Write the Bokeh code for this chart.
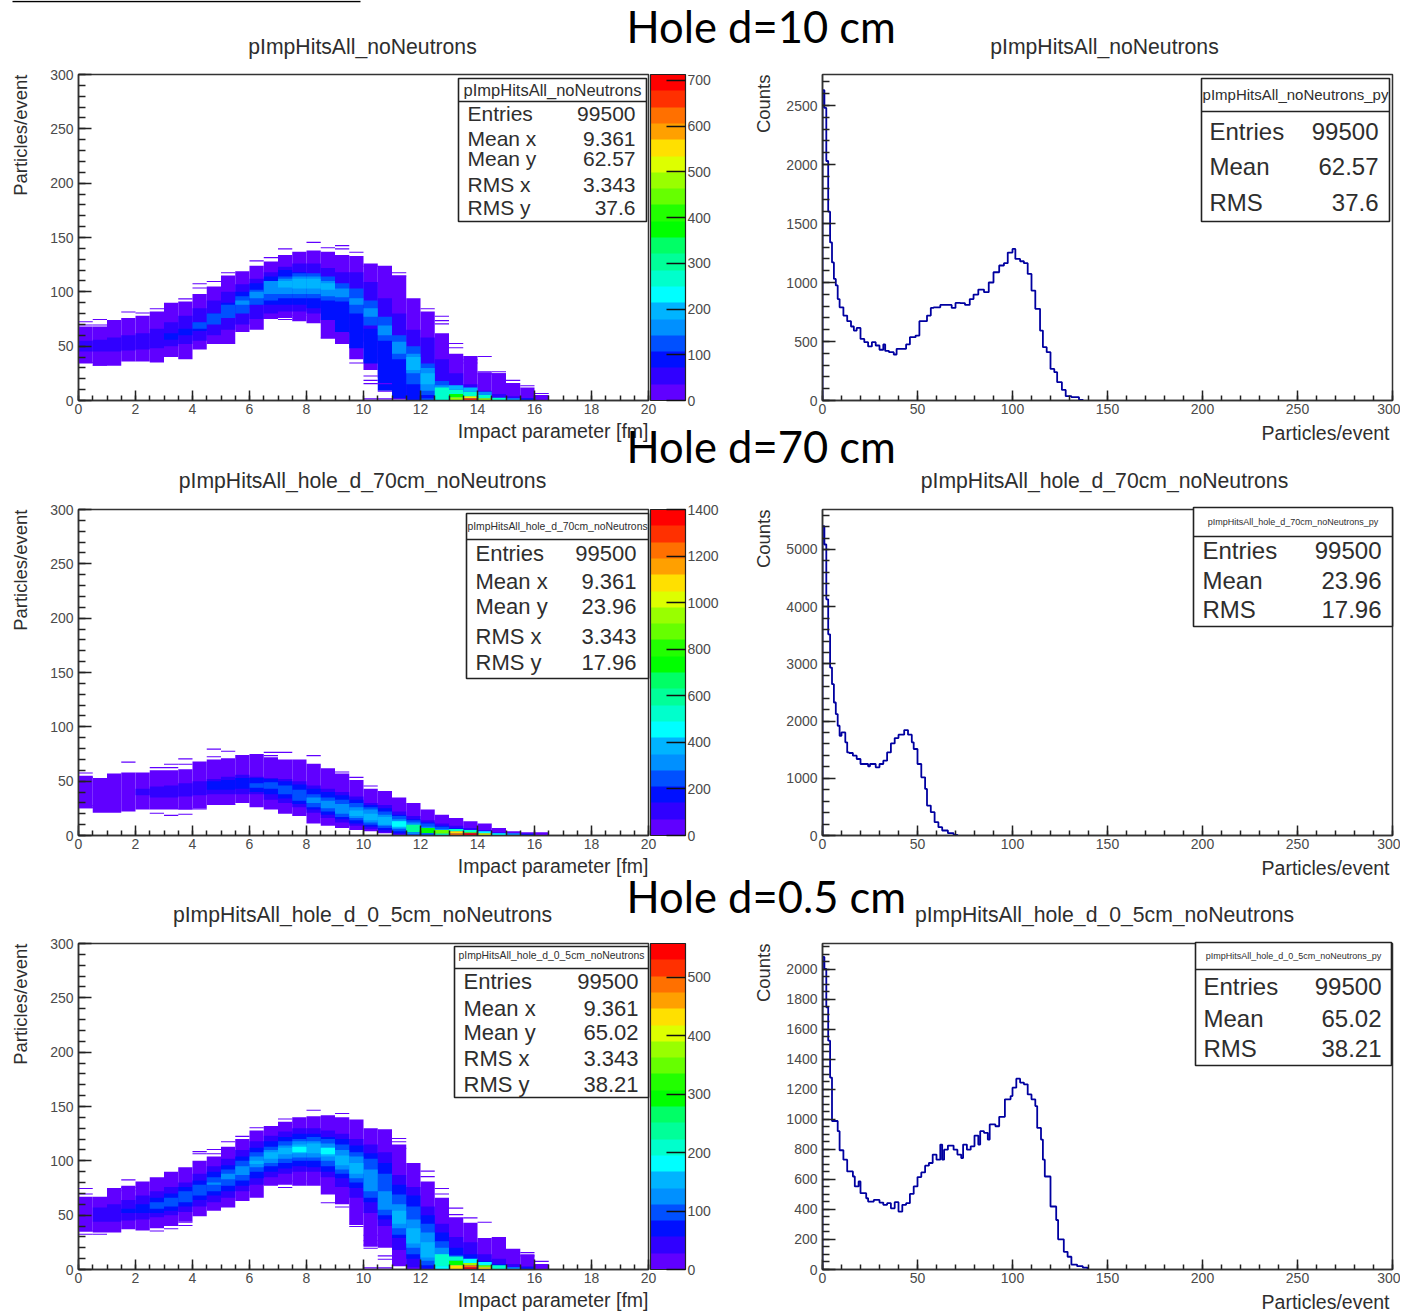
from bokeh.plotting import figure
from bokeh.models import (Range1d, SingleIntervalTicker, LinearColorMapper, ColorBar, GridBox)
from bokeh.core.properties import value
from bokeh.embed import file_html
from bokeh.resources import INLINE
import math

PALETTE = ["#6000FF", "#3000FF", "#0010FF", "#0050FF", "#0090FF", "#00B4FF", "#00FFFF", "#00FFCC", "#00FF99", "#00FF66",
           "#00FF00", "#22FF00", "#66FF00", "#99FF00", "#DDFF00", "#FFE000", "#FFA000", "#FF7000", "#FF3000", "#FF0000"]

# ---------- 2D histograms: per 0.5 fm column, nested contour bands (start column, lows, highs) ----------
h1_zmax = 713
h1_outer_lo = [34,32,32,36,36,35,40,38,47,52,52,63,65,75,76,73,71,57,52,38,28,21,1,0,0,0,0,0,0,0,0,0,0]
h1_outer_hi = [68,68,74,76,78,82,90,91,98,105,115,119,124,128,134,137,138,137,134,133,126,124,115,94,82,62,43,41,26,25,16,12,5]
h1_l2 = (0, [45,45,45,46,47,48,50,52,55,60,65,70,75,80,82,82,80,82,77,62,54,38,21,0,0,0,0,0,0,0,0,0],
            [55,56,58,60,62,66,72,78,85,92,100,107,112,118,123,126,126,122,118,118,109,94,80,65,58,38,25,15,9,6,4,2])
h1_l3 = (6, [56,60,64,72,78,85,88,88,88,88,85,74,63,48,34,9,2,0,0,0,0,0],
            [62,66,72,80,90,100,108,114,120,118,111,111,101,89,66,60,49,25,17,10,6,3])
h1_l4 = (8, [66,70,76,80,88,92,94,94,94,92,91,80,69,55,38,15,5,0,0,0,0],
            [72,80,88,96,102,110,114,117,117,114,108,103,92,77,60,50,34,18,10,6,3])
h1_l5 = (11, [88,94,98,98,98,98,96,95,88,77,60,43,25,9,0,0,0],
             [92,100,110,112,114,114,110,103,94,85,69,54,43,30,14,8,4])
h1_l6 = (14, [104,103,103,102,0,0,0,0,0,28,15],
             [110,112,112,108,0,0,0,0,0,40,25])
h1_hot = [(24,0,2,125),(25,0,12,250),(25,0,2,267),(26,10,14,200),(26,6,10,267),(26,3,6,374),(26,0,3,481),
          (27,8,12,180),(27,4,8,267),(27,2,4,500),(27,0,2,660),(28,5,8,160),(28,2,5,267),(28,0,2,481),
          (29,0,2.5,267),(30,0,2,160),(31,0,2,85),(32,0,1.5,20)]
h1_stray = [(0,72),(0,69),(1,69),(0,34.5),(1,32),(1,74),(3,81),(4,80),(5,84),(7,93),(8,107),(8,103),(9,109),(9,103),
            (10,117),(12,128),(13,131),(14,139),(16,145),(17,140),(18,142),(18,139),(19,136),(20,123),(22,117),(22,114),
            (24,84),(25,77),(25,73),(25,70),(26,52),(26,48),(27,37),(27,34),(28,40),(28,26),(29,26),(28,24),(29,24),(30,18),
            (31,13),(32,6),(15,78),(14,74),(17,71),(17,57),(18,53),(19,34),(20,22),(20,18),(20,15),(21,15),(21,8),(20,1),(21,1)]

h2_zmax = 1400
h2_outer_lo = [25,21,21,22,24,24,24,24,25,28,28,30,26,24,20,18,11,9,7,5,4,2,0,0,0,0,0,0,0,0,0,0,0]
h2_outer_hi = [55,53,57,58,58,60,60,61,68,70,71,74,75,72,70,70,66,62,57,51,43,41,35,30,24,19,16,13,11,7,4,3,3]
h2_l2 = (4, [37,35,35,36,37,38,38,38,38,33,30,26,21,16,12,9,6,3,1,0,0,0,0,0,0,0,0],
            [43,45,46,48,50,52,54,56,54,53,52,50,46,43,40,36,30,28,22,18,14,11,9,7,5,3,1])
h2_l3 = (9, [42,42,43,40,38,34,29,24,19,15,11,8,5,2,1,0,0,0,0,0,0],
            [50,51,53,53,52,50,47,43,40,37,33,28,25,19,15,12,9,7,5,3,2])
h2_l4 = (12, [44,43,38,32,26,22,17,14,10,7,4,2,1,0,0,0],
             [48,49,46,42,38,35,33,30,26,22,18,14,11,8,6,4])
h2_l5 = (16, [30,25,20,16,12,9,6,4,1,0,0],
             [35,32,29,26,24,19,15,12,8,6,4])
h2_l6 = (19, [18,14,10,7,5,1],
             [23,20,17,13,10,6])
h2_hot = [(22,8,13,455),(23,3,10,560),(23,1,3,300),(24,2,7,735),(24,0,2,245),(25,1.5,5,875),(25,0,1.5,500),
          (26,4,6,500),(26,2,4,1085),(26,0,2,1225),(27,3,5,500),(27,2,3,875),(27,0,2,1365),(28,2,4,455),(28,0,2,1015),
          (29,0,2,455),(30,0,2,315),(31,0,1.5,175)]
h2_stray = [(0,57),(0,53),(0,27),(0,25),(1,25),(3,67),(5,62),(6,62),(6,65),(7,65),(7,70),(9,79),(9,72),(10,77),(13,76),
            (14,76),(16,73),(13,73),(18,58),(19,53),(20,45),(5,20),(6,18),(7,19),(7,24),(8,24),(10,28)]

h3_zmax = 558
h3_outer_lo = [35,34,34,37,36,38,40,44,49,54,57,63,66,77,78,77,77,69,60,41,21,20,3,0,0,0,0,0,0,0,0,0,0]
h3_outer_hi = [67,67,75,77,81,85,90,94,100,104,113,120,128,132,136,140,141,142,140,138,130,129,115,98,81,66,48,43,29,30,19,14,5]
h3_l2 = (1, [44,44,45,46,48,50,53,58,62,66,72,78,85,88,90,90,85,76,66,52,40,18,2,0,0,0,0,0,0,0,0,0],
            [57,60,64,68,72,76,80,88,95,102,110,118,123,127,130,130,128,125,120,115,108,87,76,58,42,30,25,14,10,5,3,1])
h3_l3 = (3, [52,52,52,54,58,64,68,72,77,84,90,93,95,94,90,84,75,62,46,29,10,1,0,0,0,0,0,0],
            [56,60,66,70,76,82,90,96,104,112,118,122,125,125,122,120,114,107,98,78,68,50,34,20,14,8,5,2])
h3_l4 = (5, [56,58,62,68,72,77,82,90,95,98,100,100,95,88,80,66,50,32,14,4,0,0,0,0,0],
            [62,66,72,78,85,92,100,108,113,118,120,122,120,115,108,102,88,69,58,42,26,13,9,5,3])
h3_l5 = (9, [78,83,87,94,98,102,103,103,100,92,84,72,55,38,20,8,0,0,0],
            [80,88,95,104,110,114,118,118,116,110,104,92,72,60,46,34,20,9,6])
h3_l6 = (12, [97,102,106,107,107,104,96,88,0,0,42,24,11,2],
             [100,108,112,115,116,112,105,98,0,0,54,38,25,14])
h3_hot = [(15,108,113,180),(17,106,112,180),(25,3,14,209),(25,0,3,180),(26,8,12,209),(26,4,8,293),(26,0,4,432),
          (27,6,10,180),(27,4,6,390),(27,2,4,488),(27,0,2,544),(28,4,7,180),(28,2,4,349),(28,0,2,432),
          (29,0,4,209),(30,0,2,125),(31,0,2,70),(32,0,1.5,14)]
h3_stray = [(0,74),(0,69),(0,35),(0,32),(1,32),(3,82),(3,75),(3,72),(5,35),(6,37),(7,43),(7,40),(8,108),(8,106),(9,110),(9,106),
            (10,117),(11,122),(12,130),(14,133),(14,138),(14,75),(15,81),(16,146),(18,143),(22,120),(22,117),(22,111),(24,90),
            (24,85),(25,74),(25,69),(26,56),(26,50),(27,47),(28,43),(31,15),(31,12),(32,7),(17,61),(18,57),(19,39),(20,31),(20,26),
            (20,22),(20,19),(21,23),(21,12),(21,9),(20,1),(21,1)]

# ---------- 1D projections: bin starts and counts ----------
r1_x = [0,1,2,3,4,5,6,7,8,9,11,13,15,16.5,18,20,22,24,26,28,30,32,33,35,37.5,39,42,44,46,49,51,53,55,57,58.5,62,65.5,68,70,72.5,75,77.5,79.5,82,85,87.5,90,93,95.5,97.5,100,101.5,104,106,108,110,112,114.5,116,118,120,122,123.5,126,128,131,135]
r1_y = [2630,2480,2030,1600,1340,1170,1030,975,860,790,720,672,627,593,615,522,494,458,494,466,430,475,420,410,390,438,438,475,537,550,672,672,720,785,790,810,810,785,827,825,810,860,898,940,918,1000,1087,1144,1164,1254,1285,1200,1180,1164,1073,932,777,593,452,410,268,240,155,90,37,28,6]
r1_end = 137
r1_ymax = 2763
r2_x = [0,1,2,3,4,5,6,7,8,9,10,12,13,14,16,18,20,22,24,25,28,30,32,34,36,38,40,43,45,47,48,50,52,54,55,57,59,61,63,66,69]
r2_y = [5407,5087,4128,3517,2936,2645,2325,2122,1919,1744,1802,1628,1453,1442,1395,1337,1250,1250,1209,1250,1192,1250,1308,1453,1610,1703,1762,1843,1762,1628,1512,1250,1017,814,523,407,233,145,87,41,12]
r2_end = 71
r2_ymax = 5699
r3_x = [0,1,2,3,4,5,8,9,11,13,16,17,19,20,23,24,27,30,32,34,36,38,40,42,44,46,48,50,52,54,56,58,60,62,63,64,66,69,71,73,74,76,78,80,82,83,85,87,88,91,93,96,99,100,102,104,106,108,110,112,113,115,116,117,120,123,124,127,129,131,134,137]
r3_y = [2083,2004,1748,1525,1279,990,922,795,732,654,620,554,587,509,475,453,464,446,431,442,408,449,386,431,442,504,554,616,647,692,710,766,732,833,732,799,826,799,766,743,833,799,821,893,833,922,911,866,967,955,1018,1134,1156,1212,1272,1246,1234,1167,1134,1089,944,866,732,620,420,330,201,118,85,33,22,13]
r3_end = 139.5
r3_ymax = 2173

# ---------- texts ----------
big_titles = ["Hole d=10 cm", "Hole d=70 cm", "Hole d=0.5 cm"]
left_titles = ["pImpHitsAll_noNeutrons", "pImpHitsAll_hole_d_70cm_noNeutrons", "pImpHitsAll_hole_d_0_5cm_noNeutrons"]
right_titles = ["pImpHitsAll_noNeutrons", "pImpHitsAll_hole_d_70cm_noNeutrons", "pImpHitsAll_hole_d_0_5cm_noNeutrons"]
stat_labels_2d = ["Entries", "Mean x", "Mean y", "RMS x", "RMS y"]
stat_labels_1d = ["Entries", "Mean", "RMS"]
stats_2d = [["99500","9.361","62.57","3.343","37.6"], ["99500","9.361","23.96","3.343","17.96"], ["99500","9.361","65.02","3.343","38.21"]]
stats_1d = [["99500","62.57","37.6"], ["99500","23.96","17.96"], ["99500","65.02","38.21"]]
x_label_left = "Impact parameter [fm]"
x_label_right = "Particles/event"
y_label_left = "Particles/event"
y_label_right = "Counts"

FONT = "Liberation Sans"
TICK = "#4a4a4a"
TXT = "#2e2e2e"
FRAME_TOPS = [74, 509, 943]
FRAME_H = 326
FRAME_W = 570


def style(p, xmajor, xminors, ymajor, yminors):
    p.xaxis.ticker = SingleIntervalTicker(interval=xmajor, num_minor_ticks=xminors)
    p.yaxis.ticker = SingleIntervalTicker(interval=ymajor, num_minor_ticks=yminors)
    p.xgrid.visible = False
    p.ygrid.visible = False
    p.outline_line_color = "#333333"
    p.outline_line_width = 1.5
    p.background_fill_color = "white"
    p.xaxis.major_tick_in = 10
    p.xaxis.major_tick_out = 0
    p.xaxis.minor_tick_in = 5
    p.xaxis.minor_tick_out = 0
    p.yaxis.major_tick_in = 13
    p.yaxis.major_tick_out = 0
    p.yaxis.minor_tick_in = 7
    p.yaxis.minor_tick_out = 0
    for ax in (p.xaxis[0], p.yaxis[0]):
        ax.axis_line_color = "#333333"
        ax.axis_line_width = 1.5
        ax.major_tick_line_color = "#222222"
        ax.minor_tick_line_color = "#222222"
        ax.major_tick_line_width = 1.5
        ax.minor_tick_line_width = 1.5
        ax.major_label_text_font = FONT
        ax.major_label_text_font_size = "14px"
        ax.major_label_text_color = TICK
    p.xaxis[0].major_label_standoff = 3
    p.yaxis[0].major_label_standoff = 5


def heat_panel(row, zmax, zmajor, outer_lo, outer_hi, levels, hot, stray):
    p = figure(output_backend="svg", toolbar_location=None, x_range=Range1d(0, 20), y_range=Range1d(0, 300),
               frame_width=FRAME_W, frame_height=FRAME_H, min_border_left=70, min_border_right=2,
               min_border_top=6, min_border_bottom=46, frame_align=False,
               margin=(FRAME_TOPS[row] - 6, 0, 0, 8))
    style(p, 2, 4, 50, 5)
    dz = zmax / 20
    left, right, bottom, top, val = [], [], [], [], []
    def add(col, lo, hi, v):
        if hi > lo:
            left.append(col * 0.5); right.append(col * 0.5 + 0.5); bottom.append(lo); top.append(hi); val.append(v)
    for c, (lo, hi) in enumerate(zip(outer_lo, outer_hi)):
        add(c, lo, hi, 0.5 * dz)
    for idx, (start, los, his) in enumerate(levels, start=1):
        for k, (lo, hi) in enumerate(zip(los, his)):
            add(start + k, lo, hi, (idx + 0.5) * dz)
    for col, lo, hi, v in hot:
        add(col, lo, hi, v)
    for col, y in stray:
        add(col, y, y + 1, 0.5 * dz)
    mapper = LinearColorMapper(palette=PALETTE, low=0, high=zmax)
    p.quad(left=left, right=right, bottom=bottom, top=top, line_color=None,
           fill_color=[PALETTE[min(int(v / dz), 19)] for v in val])
    cb = ColorBar(color_mapper=mapper, ticker=SingleIntervalTicker(interval=zmajor), width=35, height=FRAME_H,
                  padding=0, margin=0, location=(2, 0), major_tick_in=19, major_tick_out=0, minor_tick_in=0, minor_tick_out=0,
                  major_tick_line_color="#111111", major_tick_line_width=1.5, bar_line_color="#222222", bar_line_width=1.2,
                  major_label_text_font=FONT, major_label_text_font_size="14px", major_label_text_color=TICK,
                  label_standoff=2, border_line_color=None, background_fill_color=None)
    p.add_layout(cb, "right")
    return p


def hist_panel(row, xs, ys, xend, ymax, ymajor, yminors):
    p = figure(output_backend="svg", toolbar_location=None, x_range=Range1d(0, 300), y_range=Range1d(0, ymax),
               frame_width=FRAME_W, frame_height=FRAME_H, min_border_left=72, min_border_right=8,
               min_border_top=6, min_border_bottom=46, frame_align=False,
               margin=(FRAME_TOPS[row] - 6, 0, 0, 750))
    style(p, 50, 5, ymajor, yminors)
    p.step(x=[0] + xs + [xend], y=[0] + ys + [0], mode="after", line_color="#0000A0", line_width=1.8)
    return p


panels = [
    heat_panel(0, h1_zmax, 100, h1_outer_lo, h1_outer_hi, [h1_l2, h1_l3, h1_l4, h1_l5, h1_l6], h1_hot, h1_stray),
    hist_panel(0, r1_x, r1_y, r1_end, r1_ymax, 500, 5),
    heat_panel(1, h2_zmax, 200, h2_outer_lo, h2_outer_hi, [h2_l2, h2_l3, h2_l4, h2_l5, h2_l6], h2_hot, h2_stray),
    hist_panel(1, r2_x, r2_y, r2_end, r2_ymax, 1000, 5),
    heat_panel(2, h3_zmax, 100, h3_outer_lo, h3_outer_hi, [h3_l2, h3_l3, h3_l4, h3_l5, h3_l6], h3_hot, h3_stray),
    hist_panel(2, r3_x, r3_y, r3_end, r3_ymax, 200, 4),
]

# ---------- overlay in page pixels: titles, axis titles and statistics boxes ----------
ov = figure(output_backend="svg", toolbar_location=None, x_range=Range1d(0, 1401), y_range=Range1d(1311, 0),
            frame_width=1401, frame_height=1311, min_border=0, x_axis_type=None, y_axis_type=None, frame_align=False,
            margin=0, background_fill_alpha=0, border_fill_alpha=0, outline_line_color=None)
ov.xgrid.visible = False
ov.ygrid.visible = False

def txt(x, y, s, size, align="left", color=TXT, font=FONT, angle=0.0):
    ov.text(x=[x], y=[y], text=[s], text_font=value(font), text_font_size=value(f"{size}px"), text_align=align,
            text_baseline="middle", text_color=color, angle=angle)

ov.line(x=[12, 360], y=[1, 1], line_color="black", line_width=1.5)
for top in FRAME_TOPS:
    txt(648, top + 356, x_label_left, 19.5, "right")
    txt(1389, top + 358, x_label_right, 19.5, "right")
    txt(20, top, y_label_left, 18.5, "right", angle=math.pi / 2)
    txt(763, top, y_label_right, 18.5, "right", angle=math.pi / 2)
for s, y in zip(big_titles, [25, 445, 895]):
    txt(626, y, s, 43.5, color="black", font="Lato")
for s, x, y in zip(left_titles + right_titles, [362, 362, 362, 1104, 1104, 1104], [46, 480, 914, 46, 480, 914]):
    txt(x, y, s, 21.2, "center")

def stat_box(x0, x1, y0, y1, yh, title, title_size, title_y, labels, vals, rows_y, lx, rx, size):
    ov.quad(left=[x0], right=[x1], top=[y0], bottom=[y1], fill_color="white", line_color="#222222", line_width=1.6)
    ov.line(x=[x0, x1], y=[yh, yh], line_color="#222222", line_width=1.4)
    txt((x0 + x1) / 2, title_y, title, title_size, "center")
    for l, v, y in zip(labels, vals, rows_y):
        txt(lx, y, l, size)
        txt(rx, y, v, size, "right")

stat_box(458, 646, 78, 221, 101, "pImpHitsAll_noNeutrons", 16.5, 89, stat_labels_2d, stats_2d[0], [113, 138, 158, 184, 207], 467, 635, 21)
stat_box(466, 648, 513, 678, 539, "pImpHitsAll_hole_d_70cm_noNeutrons", 10.4, 526, stat_labels_2d, stats_2d[1], [553, 581, 606, 636, 662], 475, 636, 22)
stat_box(454, 648, 946, 1097, 968, "pImpHitsAll_hole_d_0_5cm_noNeutrons", 10.4, 955, stat_labels_2d, stats_2d[2], [981, 1008, 1032, 1058, 1084], 463, 638, 22)
stat_box(1201, 1389, 78, 221, 111, "pImpHitsAll_noNeutrons_py", 15, 94, stat_labels_1d, stats_1d[0], [131, 166, 202], 1209, 1378, 24)
stat_box(1193, 1392, 507, 626, 536, "pImpHitsAll_hole_d_70cm_noNeutrons_py", 9, 521, stat_labels_1d, stats_1d[1], [550, 580, 609], 1202, 1381, 24)
stat_box(1195, 1391, 942, 1065, 969, "pImpHitsAll_hole_d_0_5cm_noNeutrons_py", 9, 955, stat_labels_1d, stats_1d[2], [986, 1018, 1048], 1203, 1381, 24)

children = [(c, 0, 0) for c in panels] + [(ov, 0, 0)]
root = GridBox(children=children)
open("out.html", "w").write(file_html(root, INLINE))
